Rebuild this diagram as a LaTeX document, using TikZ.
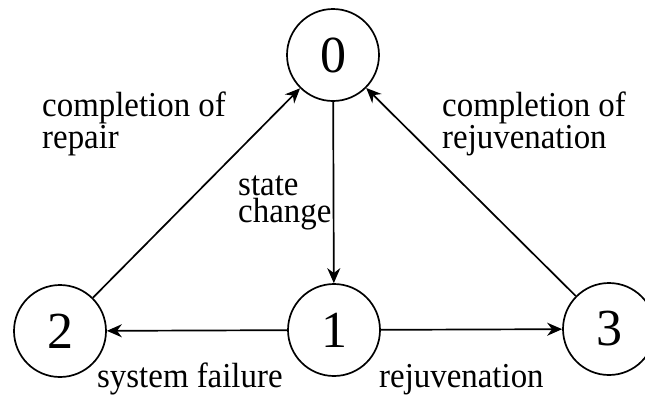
\documentclass[tikz,border=0pt]{standalone}
\usepackage{fontspec}
\setmainfont{Liberation Serif}
\newfontfamily\lblfont[FakeStretch=0.94]{Liberation Serif}
\usetikzlibrary{arrows.meta}
\begin{document}
\begin{tikzpicture}[x=1pt,y=-1pt,
  state/.style={circle,draw,line width=1.7pt,minimum size=92pt,inner sep=0pt,font=\fontsize{52}{54}\selectfont},
  lbl/.style={inner sep=0pt,align=left,anchor=base west,font=\lblfont\fontsize{35}{27}\selectfont},
  arr/.style={line width=1.7pt,-{Stealth[length=15pt,width=13pt]}}]
\useasboundingbox (0,0) rectangle (645,397);
\clip (0,0) rectangle (645,397);
\node[state] (n0) at (333,55) {0};
\node[state] (n1) at (334,330) {1};
\node[state] (n2) at (60,331) {2};
\node[state] (n3) at (609,329) {3};
\draw[arr] (n2) -- (n0);
\draw[arr] (n3) -- (n0);
\draw[arr] (n0) -- (n1);
\draw[arr] (n1) -- (n2);
\draw[arr] (n1) -- (n3);
\node[lbl] (l20) at (42,148) {completion of\\repair};
\node[lbl] (l30) at (442,148) {completion of\\rejuvenation};
\node[lbl] (l01) at (238,222) {state\\change};
\node[lbl] (l12) at (97,387) {system failure};
\node[lbl] (l13) at (379,387) {rejuvenation};
\end{tikzpicture}
\end{document}
